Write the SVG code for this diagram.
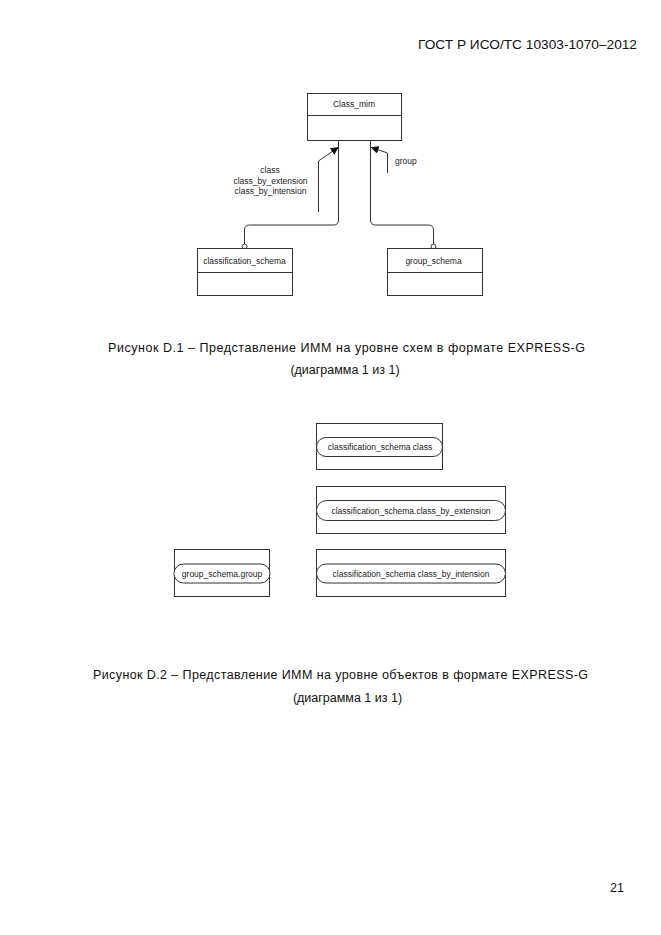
<svg xmlns="http://www.w3.org/2000/svg" width="661" height="935" viewBox="0 0 661 935">
<style>
.bg{fill:#fff}
.box{fill:#fff;stroke:#333;stroke-width:1}
.ln{fill:none;stroke:#333;stroke-width:1}
.t{font-family:"Liberation Sans",Arial,sans-serif;font-size:8.5px;fill:#222;text-anchor:middle}
.cap{font-family:"Liberation Sans",Arial,sans-serif;font-size:12.5px;fill:#111}
</style>
<defs>
<marker id="ah" viewBox="0 0 10 10" refX="9" refY="5" markerWidth="8" markerHeight="8" markerUnits="userSpaceOnUse" orient="auto">
<path d="M0,0 L10,5 L0,10 z" fill="#111"/>
</marker>
</defs>
<rect class="bg" x="0" y="0" width="661" height="935"/>
<text class="cap" x="418" y="49" textLength="219" lengthAdjust="spacingAndGlyphs">ГОСТ Р ИСО/ТС 10303-1070–2012</text>

<g id="connectors">
<path class="ln" d="M338.5,140 V220 Q338.5,225 333.5,225 H249.5 Q244.5,225 244.5,230 V244"/>
<circle class="box" cx="244.5" cy="246.5" r="2.5"/>
<path class="ln" d="M370.5,140 V220 Q370.5,225 375.5,225 H428.5 Q433.5,225 433.5,230 V244"/>
<circle class="box" cx="433.5" cy="246.5" r="2.5"/>
<path class="ln" d="M318.5,212 V161 L338,147.5" marker-end="url(#ah)"/>
<path class="ln" d="M387.5,173 V153 L371.5,147.5" marker-end="url(#ah)"/>
</g>

<g id="Class_mim">
<rect class="box" x="307.5" y="93.5" width="94" height="47"/>
<line class="ln" x1="307.5" y1="115.5" x2="401.5" y2="115.5"/>
<text class="t" x="354" y="107">Class_mim</text>
</g>

<g id="label_left">
<text class="t" x="270" y="173">class</text>
<text class="t" x="270.5" y="184">class_by_extension</text>
<text class="t" x="270.5" y="194">class_by_intension</text>
</g>
<g id="label_right">
<text class="t" x="395" y="164" style="text-anchor:start">group</text>
</g>

<g id="classification_schema">
<rect class="box" x="197.5" y="248.5" width="95" height="47"/>
<line class="ln" x1="197.5" y1="272.5" x2="292.5" y2="272.5"/>
<text class="t" x="244.5" y="264">classification_schema</text>
</g>

<g id="group_schema">
<rect class="box" x="387.5" y="248.5" width="95" height="47"/>
<line class="ln" x1="387.5" y1="272.5" x2="482.5" y2="272.5"/>
<text class="t" x="433.5" y="264">group_schema</text>
</g>

<text class="cap" x="108" y="351.5" textLength="477" lengthAdjust="spacing">Рисунок  D.1 – Представление ИММ на уровне схем в формате EXPRESS-G</text>
<text class="cap" x="345" y="373.5" style="text-anchor:middle">(диаграмма 1  из 1)</text>

<g id="obj_class">
<rect class="box" x="316.5" y="423.5" width="126" height="46"/>
<rect class="box" x="316.5" y="437.5" width="126" height="19" rx="9.5"/>
<text class="t" x="380" y="450">classification_schema class</text>
</g>

<g id="obj_class_by_extension">
<rect class="box" x="316.5" y="486.5" width="189" height="47"/>
<rect class="box" x="316.5" y="500.5" width="189" height="20" rx="10"/>
<text class="t" x="411" y="513.5">classification_schema.class_by_extension</text>
</g>

<g id="obj_class_by_intension">
<rect class="box" x="316.5" y="549.5" width="189" height="47"/>
<rect class="box" x="316.5" y="564" width="189" height="19" rx="9.5"/>
<text class="t" x="411" y="576.5">classification_schema class_by_intension</text>
</g>

<g id="obj_group">
<rect class="box" x="174.5" y="549.5" width="95" height="47"/>
<rect class="box" x="174" y="564" width="96" height="19" rx="9.5"/>
<text class="t" x="222" y="576.5">group_schema.group</text>
</g>

<text class="cap" x="93" y="678.5" textLength="495" lengthAdjust="spacing">Рисунок  D.2 – Представление ИММ на уровне объектов в формате EXPRESS-G</text>
<text class="cap" x="347.5" y="702" style="text-anchor:middle">(диаграмма 1  из 1)</text>

<text class="cap" x="610" y="891.5">21</text>
</svg>
